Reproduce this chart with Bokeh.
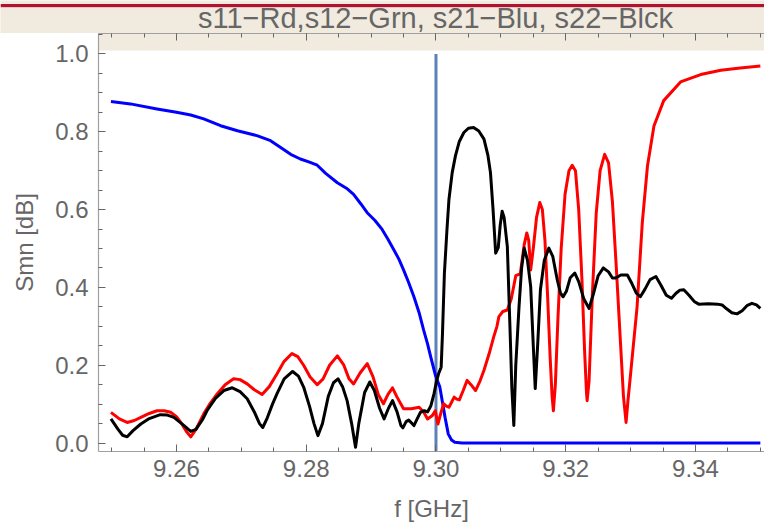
from bokeh.plotting import figure
from bokeh.layouts import column
from bokeh.models import (Range1d, LinearAxis, SingleIntervalTicker, NumeralTickFormatter,
                          BoxAnnotation)
from bokeh.core.properties import value
from bokeh.embed import file_html
from bokeh.resources import INLINE

# ---------------- data ----------------
title_text = "s11\u2212Rd,s12\u2212Grn, s21\u2212Blu, s22\u2212Blck"
x_label = "f [GHz]"
y_label = "Smn [dB]"

f_s11 = [9.2499, 9.2512, 9.2524, 9.2535, 9.2545, 9.2558, 9.2570, 9.2581, 9.2591, 9.2600,
         9.2608, 9.2616, 9.2622, 9.2630, 9.2642, 9.2652, 9.2663, 9.2675, 9.2688, 9.2698,
         9.2709, 9.2720, 9.2732, 9.2743, 9.2755, 9.2766, 9.2778, 9.2787, 9.2796, 9.2806,
         9.2817, 9.2826, 9.2836, 9.2848, 9.2858, 9.2866, 9.2873, 9.2883, 9.2894, 9.2903,
         9.2911, 9.2919, 9.2926, 9.2933, 9.2940, 9.2950, 9.2962, 9.2974, 9.2981, 9.2987,
         9.2994, 9.2999, 9.3003, 9.3008, 9.3012, 9.3016, 9.3020, 9.3024, 9.3028, 9.3032,
         9.3036, 9.3042, 9.3048, 9.3054, 9.3061, 9.3068, 9.3074, 9.3082, 9.3089, 9.3094,
         9.3097, 9.3103, 9.3110, 9.3116, 9.3123, 9.3130, 9.3136, 9.3140, 9.3143, 9.3146,
         9.3150, 9.3155, 9.3160, 9.3164, 9.3168, 9.3172, 9.3176, 9.3179, 9.3181, 9.3184,
         9.3188, 9.3193, 9.3199, 9.3205, 9.3210, 9.3215, 9.3220, 9.3225, 9.3229, 9.3232,
         9.3233, 9.3236, 9.3241, 9.3247, 9.3253, 9.3260, 9.3266, 9.3272, 9.3278, 9.3284,
         9.3289, 9.3293, 9.3296, 9.3300, 9.3310, 9.3318, 9.3326, 9.3336, 9.3351, 9.3377,
         9.3408, 9.3439, 9.3469, 9.3500]
s11 = [0.079, 0.062, 0.053, 0.058, 0.066, 0.076, 0.083, 0.083, 0.079, 0.068,
       0.050, 0.028, 0.016, 0.035, 0.075, 0.102, 0.127, 0.150, 0.165, 0.163,
       0.152, 0.137, 0.125, 0.145, 0.178, 0.210, 0.230, 0.222, 0.200, 0.170,
       0.150, 0.165, 0.200, 0.224, 0.200, 0.165, 0.152, 0.180, 0.204, 0.170,
       0.125, 0.101, 0.125, 0.142, 0.118, 0.088, 0.088, 0.092, 0.080, 0.062,
       0.070, 0.083, 0.049, 0.080, 0.101, 0.095, 0.092, 0.105, 0.118, 0.113,
       0.111, 0.135, 0.161, 0.150, 0.135, 0.160, 0.187, 0.230, 0.273, 0.300,
       0.325, 0.338, 0.342, 0.370, 0.430, 0.435, 0.510, 0.540, 0.520, 0.445,
       0.500, 0.580, 0.618, 0.600, 0.520, 0.380, 0.220, 0.120, 0.083, 0.150,
       0.320, 0.500, 0.640, 0.700, 0.714, 0.700, 0.600, 0.420, 0.240, 0.130,
       0.109, 0.160, 0.380, 0.590, 0.700, 0.742, 0.720, 0.620, 0.450, 0.270,
       0.120, 0.053, 0.110, 0.178, 0.350, 0.566, 0.712, 0.815, 0.880, 0.928,
       0.947, 0.958, 0.964, 0.969]

f_s21 = [9.2499, 9.2529, 9.2570, 9.2600, 9.2622, 9.2642, 9.2668, 9.2694, 9.2724, 9.2745,
         9.2760, 9.2776, 9.2791, 9.2805, 9.2817, 9.2830, 9.2848, 9.2862, 9.2873, 9.2884,
         9.2894, 9.2906, 9.2917, 9.2926, 9.2935, 9.2943, 9.2950, 9.2958, 9.2966, 9.2974,
         9.2981, 9.2987, 9.2992, 9.2999, 9.3006, 9.3010, 9.3014, 9.3019, 9.3024, 9.3029,
         9.3040, 9.3500]
s21 = [0.8775, 0.8716, 0.8587, 0.850, 0.843, 0.833, 0.8155, 0.8026, 0.790, 0.777,
       0.760, 0.742, 0.730, 0.722, 0.714, 0.693, 0.669, 0.655, 0.639, 0.615,
       0.592, 0.572, 0.549, 0.524, 0.497, 0.472, 0.445, 0.412, 0.376, 0.335,
       0.290, 0.255, 0.221, 0.175, 0.1437, 0.105, 0.066, 0.023, 0.008, 0.002,
       0.000, 0.000]

f_s22 = [9.2499, 9.2510, 9.2517, 9.2524, 9.2533, 9.2545, 9.2558, 9.2575, 9.2586, 9.2596,
         9.2608, 9.2622, 9.2630, 9.2640, 9.2647, 9.2660, 9.2673, 9.2686, 9.2698, 9.2709,
         9.2720, 9.2728, 9.2733, 9.2740, 9.2748, 9.2755, 9.2766, 9.2779, 9.2788, 9.2796,
         9.2805, 9.2812, 9.2818, 9.2825, 9.2834, 9.2842, 9.2849, 9.2856, 9.2863, 9.2870,
         9.2876, 9.2881, 9.2890, 9.2898, 9.2905, 9.2913, 9.2920, 9.2927, 9.2933, 9.2940,
         9.2946, 9.2949, 9.2954, 9.2958, 9.2962, 9.2966, 9.2971, 9.2976, 9.2982, 9.2987,
         9.2992, 9.2997, 9.3001, 9.3004, 9.3008, 9.3010, 9.3013, 9.3017, 9.3020, 9.3025,
         9.3030, 9.3036, 9.3043, 9.3050, 9.3058, 9.3066, 9.3074, 9.3080, 9.3084, 9.3088,
         9.3092, 9.3096, 9.3099, 9.3102, 9.3105, 9.3110, 9.3114, 9.3117, 9.3120, 9.3123,
         9.3128, 9.3132, 9.3136, 9.3141, 9.3146, 9.3150, 9.3153, 9.3157, 9.3161, 9.3167,
         9.3174, 9.3180, 9.3187, 9.3192, 9.3196, 9.3201, 9.3207, 9.3214, 9.3220, 9.3228,
         9.3236, 9.3243, 9.3250, 9.3258, 9.3266, 9.3272, 9.3277, 9.3285, 9.3295, 9.3302,
         9.3309, 9.3315, 9.3322, 9.3330, 9.3339, 9.3347, 9.3355, 9.3363, 9.3370, 9.3376,
         9.3382, 9.3390, 9.3398, 9.3405, 9.3420, 9.3434, 9.3441, 9.3448, 9.3456, 9.3464,
         9.3472, 9.3480, 9.3487, 9.3494, 9.3500]
s22 = [0.062, 0.035, 0.020, 0.016, 0.032, 0.049, 0.063, 0.073, 0.072, 0.066,
       0.050, 0.030, 0.035, 0.060, 0.083, 0.115, 0.135, 0.142, 0.132, 0.114,
       0.080, 0.050, 0.040, 0.065, 0.100, 0.127, 0.165, 0.184, 0.172, 0.144,
       0.095, 0.050, 0.019, 0.050, 0.120, 0.155, 0.165, 0.145, 0.109, 0.050,
       -0.011, 0.050, 0.130, 0.157, 0.135, 0.090, 0.062, 0.090, 0.109, 0.080,
       0.045, 0.039, 0.055, 0.059, 0.052, 0.045, 0.062, 0.079, 0.083, 0.080,
       0.095, 0.127, 0.160, 0.178, 0.195, 0.280, 0.437, 0.550, 0.626, 0.695,
       0.738, 0.775, 0.798, 0.809, 0.811, 0.802, 0.781, 0.740, 0.695, 0.600,
       0.488, 0.502, 0.560, 0.596, 0.580, 0.505, 0.300, 0.140, 0.045, 0.200,
       0.350, 0.450, 0.501, 0.470, 0.402, 0.250, 0.140, 0.260, 0.394, 0.470,
       0.501, 0.480, 0.419, 0.385, 0.376, 0.390, 0.425, 0.437, 0.415, 0.370,
       0.346, 0.385, 0.430, 0.450, 0.440, 0.424, 0.424, 0.432, 0.432, 0.410,
       0.385, 0.376, 0.395, 0.420, 0.428, 0.405, 0.380, 0.372, 0.385, 0.393,
       0.394, 0.380, 0.364, 0.357, 0.358, 0.357, 0.355, 0.345, 0.335, 0.332,
       0.340, 0.354, 0.359, 0.355, 0.346]

marker_f = [9.30]
marker_y0 = [-0.0217]
marker_y1 = [1.0]

x_min, x_max = 9.24798, 9.35064
y_min, y_max = -0.0217, 1.0525
band_bottom = 1.0085   # lower edge of the beige title band inside the frame

GRAY = "#666666"
AXIS_GRAY = "#a0a0a0"
BEIGE = "#f1ebdf"
FONT = "Liberation Sans"
W = 764
HEAD_H = 33

# ---------------- header strip (title band) ----------------
h = figure(width=W, height=HEAD_H, output_backend="svg", toolbar_location=None,
           x_range=Range1d(0, W), y_range=Range1d(HEAD_H, 0),
           x_axis_location=None, y_axis_location=None,
           min_border_left=0, min_border_right=0, min_border_top=0, min_border_bottom=0)
h.frame_align = False
h.outline_line_color = None
h.grid.visible = False
h.background_fill_color = BEIGE
h.border_fill_color = BEIGE
h.add_layout(BoxAnnotation(top=3.5, bottom=6.5, fill_color="#b3122e", fill_alpha=1.0,
                           line_color=None))
h.add_layout(BoxAnnotation(top=6.5, bottom=7.5, fill_color="#e6c2c2", fill_alpha=1.0,
                           line_color=None))
h.text(x=[435], y=[17], text=[title_text], text_align="center",
       text_baseline="middle", text_font=value(FONT), text_font_size="29px",
       text_color=GRAY)

# ---------------- main plot ----------------
p = figure(width=W, height=527 - HEAD_H, output_backend="svg", toolbar_location=None,
           x_range=Range1d(x_min, x_max), y_range=Range1d(y_min, y_max),
           x_axis_location=None, y_axis_location=None,
           min_border_left=98, min_border_right=0, min_border_top=0, min_border_bottom=76)
p.frame_align = False
p.outline_line_color = None
p.grid.visible = False
p.background_fill_color = "white"
p.border_fill_color = "white"

p.add_layout(BoxAnnotation(bottom=band_bottom, fill_color=BEIGE, fill_alpha=1.0,
                           line_color=None, level="underlay"))

xt = SingleIntervalTicker(interval=0.02, num_minor_ticks=4)
yt = SingleIntervalTicker(interval=0.2, num_minor_ticks=4)

def style(ax):
    ax.axis_line_color = AXIS_GRAY
    ax.axis_line_width = 1.2
    ax.major_tick_line_color = GRAY
    ax.minor_tick_line_color = GRAY
    ax.major_tick_in = 7
    ax.major_tick_out = 0
    ax.minor_tick_in = 4
    ax.minor_tick_out = 0
    ax.major_label_text_color = GRAY
    ax.major_label_text_font = FONT
    ax.major_label_text_font_size = "24px"
    ax.axis_label_text_color = GRAY
    ax.axis_label_text_font = FONT
    ax.axis_label_text_font_size = "24px"
    ax.axis_label_text_font_style = "normal"

xb = LinearAxis(ticker=xt, formatter=NumeralTickFormatter(format="0.00"), axis_label=x_label)
style(xb)
xb.major_label_standoff = 8
xb.axis_label_standoff = 15
p.add_layout(xb, "below")

xa = LinearAxis(ticker=xt, formatter=NumeralTickFormatter(format="0.00"))
style(xa)
xa.major_label_text_color = None
xa.major_label_text_font_size = "1px"
xa.major_label_standoff = 0
p.add_layout(xa, "above")

yl = LinearAxis(ticker=yt, formatter=NumeralTickFormatter(format="0.0"), axis_label=y_label)
style(yl)
yl.major_label_standoff = 10
yl.axis_label_standoff = 14
p.add_layout(yl, "left")

p.segment(x0=marker_f, y0=marker_y0, x1=marker_f, y1=marker_y1,
          line_color="#5e81b5", line_width=3)
p.line(f_s21, s21, line_color="#0000ff", line_width=3, line_join="round")
p.line(f_s11, s11, line_color="#ff0000", line_width=3, line_join="round")
p.line(f_s22, s22, line_color="#000000", line_width=3, line_join="round")

layout = column(h, p, spacing=0)
open("out.html", "w").write(file_html(layout, INLINE))
